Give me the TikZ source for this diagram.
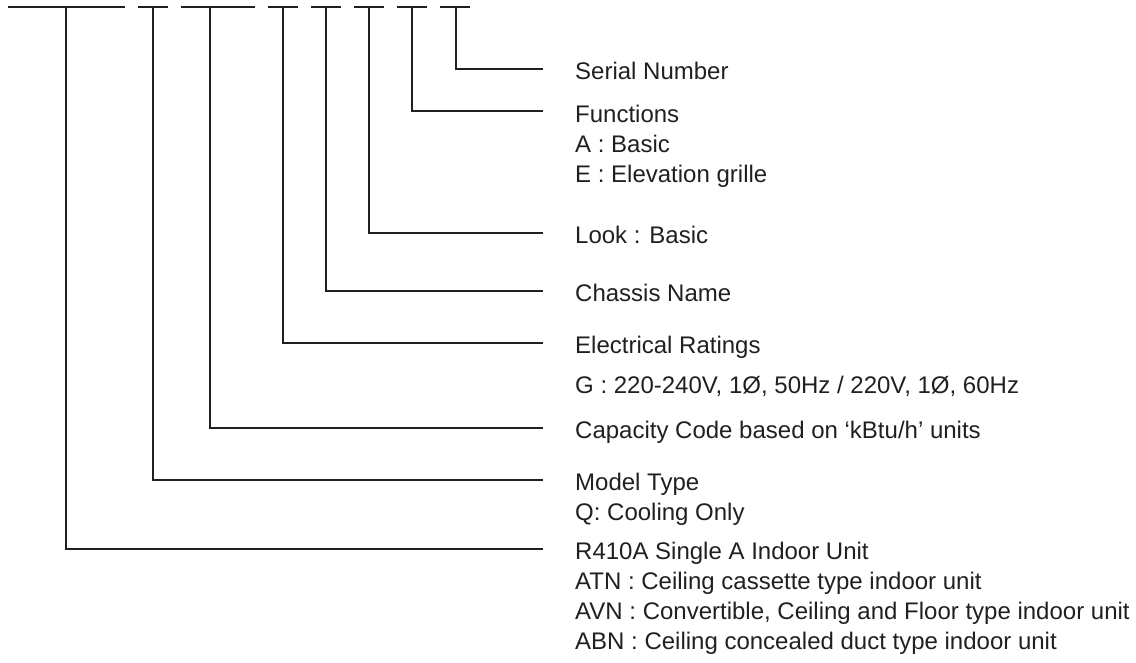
\documentclass[tikz,border=0pt]{standalone}
\usepackage{fontspec}
\setmainfont{Liberation Sans}
\usetikzlibrary{positioning}
\definecolor{codeink}{RGB}{35,31,32}

\begin{document}
\begin{tikzpicture}[x=1pt, y=-1pt,
  codeline/.style={draw=codeink, line width=1.7pt},
  leader/.style={draw=codeink, line width=1.6pt},
  codetext/.style={anchor=base west, inner sep=0pt, align=left, text=codeink,
    font=\fontsize{24}{30}\selectfont}]
  \useasboundingbox (0,0) rectangle (1136,662);
  % code segments along the top
  \foreach \l/\m/\r [count=\i] in {8/66/125, 138/153/168, 181/210/255, 268/283/298,
      311/326/341, 354/369/384, 397/412/427, 440/456/470}{
    \draw[codeline] (\l,7) -- (\r,7);
    \coordinate (d\i) at (\m,7);
  }
  % leader ends
  \foreach \y [count=\i] in {549, 480, 428, 343, 291, 233, 111, 69}
    \coordinate (e\i) at (543,\y);
  % descriptions (anchored on the last line)
  \node[codetext] (lab8) at (575,79) {Serial Number};
  \node[codetext] (lab7) at (575,182) {Functions\\A : Basic\\E : Elevation grille};
  \node[codetext] (lab6) at (575,243) {Look : Basic};
  \node[codetext] (lab5) at (575,301) {Chassis Name};
  \node[codetext] (lab4) at (575,393) {Electrical Ratings\\[10pt]G : 220-240V, 1Ø, 50Hz / 220V, 1Ø, 60Hz};
  \node[codetext] (lab3) at (575,438) {Capacity Code based on ‘kBtu/h’ units};
  \node[codetext] (lab2) at (575,520) {Model Type\\Q: Cooling Only};
  \node[codetext] (lab1) at (575,649) {R410A Single A Indoor Unit\\ATN : Ceiling cassette type indoor unit\\AVN : Convertible, Ceiling and Floor type indoor unit\\ABN : Ceiling concealed duct type indoor unit};
  % leaders
  \foreach \i in {1,...,8}
    \draw[leader] (d\i) |- (e\i);
\end{tikzpicture}
\end{document}
